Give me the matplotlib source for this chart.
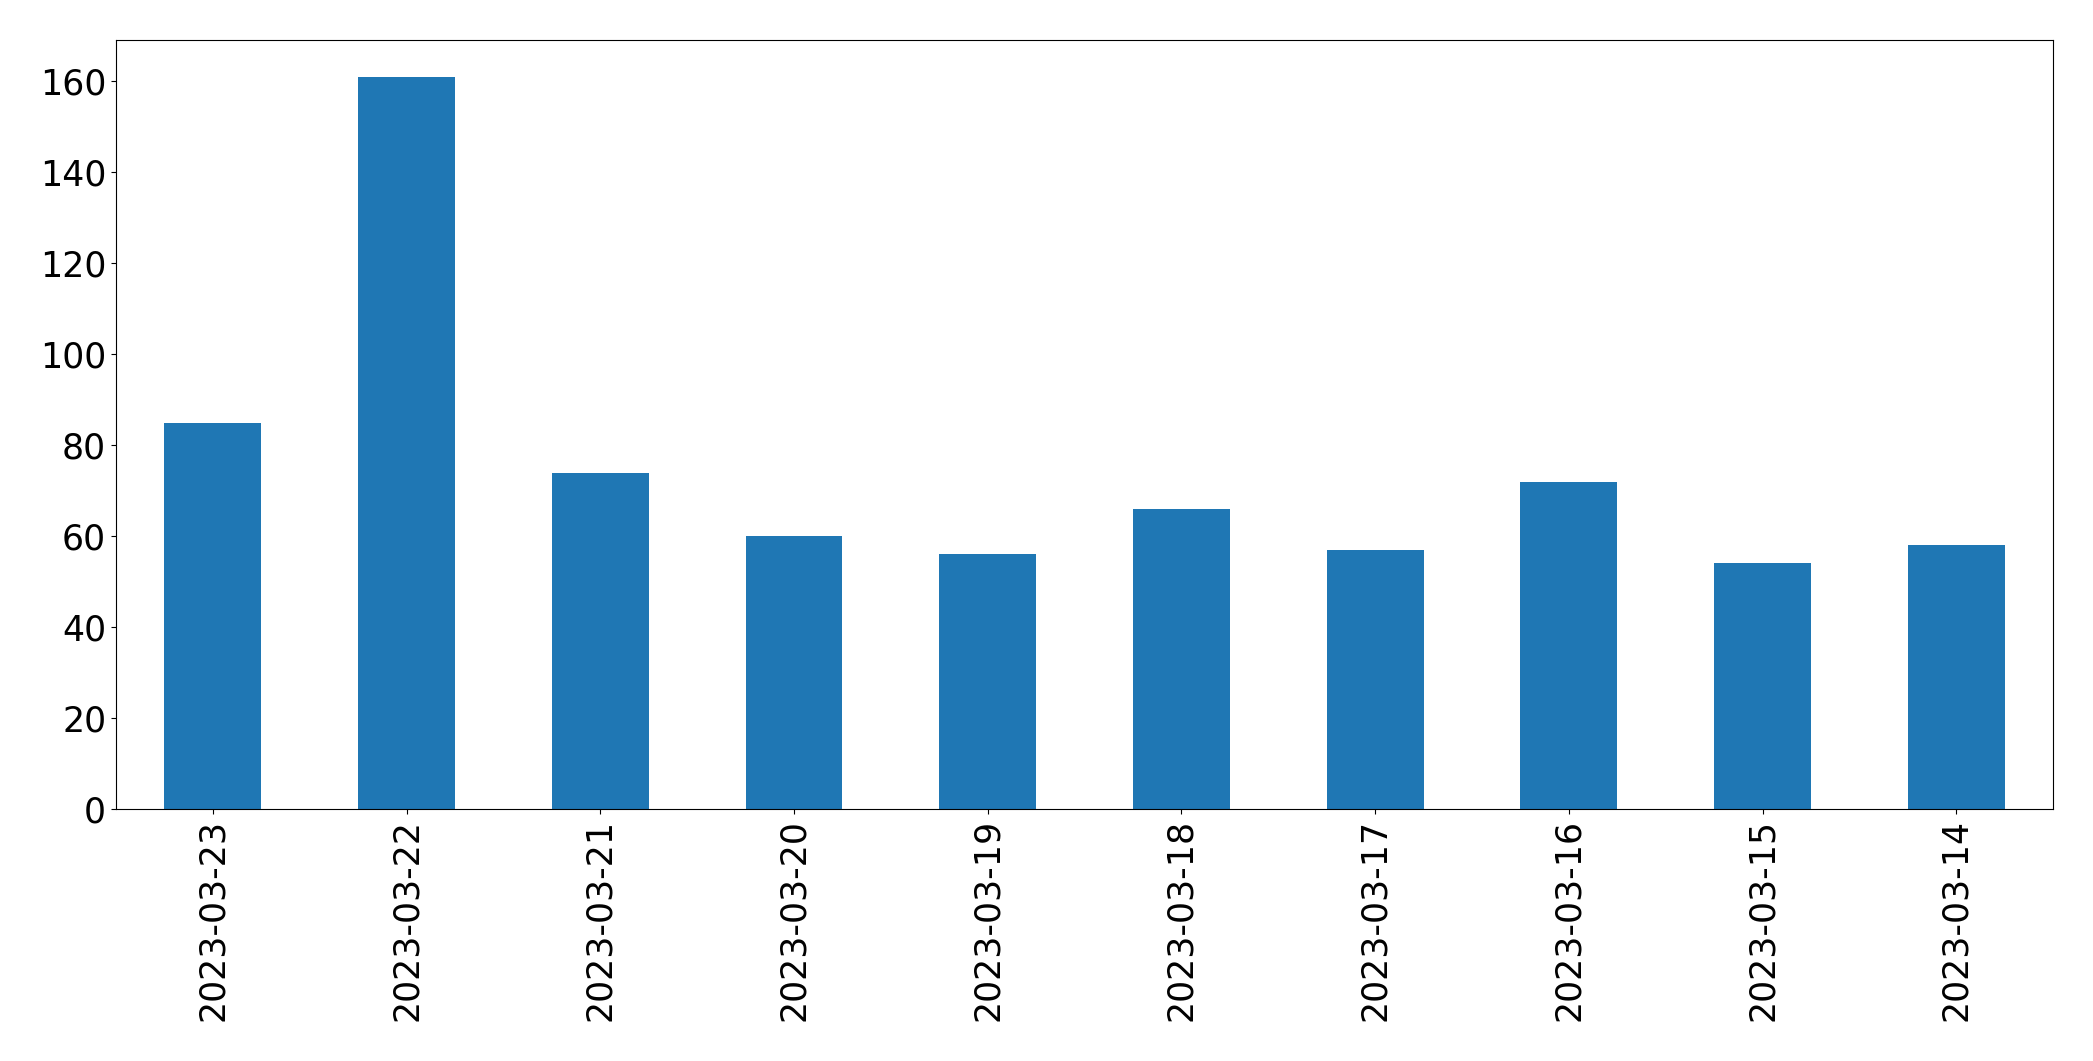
import matplotlib
matplotlib.use("Agg")
import matplotlib.pyplot as plt

dates = ["2023-03-23", "2023-03-22", "2023-03-21", "2023-03-20", "2023-03-19",
         "2023-03-18", "2023-03-17", "2023-03-16", "2023-03-15", "2023-03-14"]
counts = [85, 161, 74, 60, 56, 66, 57, 72, 54, 58]

fig = plt.figure(figsize=(20.93, 10.61), dpi=100)
ax = fig.add_axes([0.0554, 0.2375, 0.9256, 0.7245])
x = list(range(len(dates)))
ax.bar(x, counts, width=0.5, color="#1f77b4")
ax.set_xticks(x)
ax.set_xticklabels(dates, rotation=90)
ax.set_xlim(-0.5, len(dates) - 0.5)
ax.tick_params(labelsize=25)
fig.savefig("out.png", dpi=100)
